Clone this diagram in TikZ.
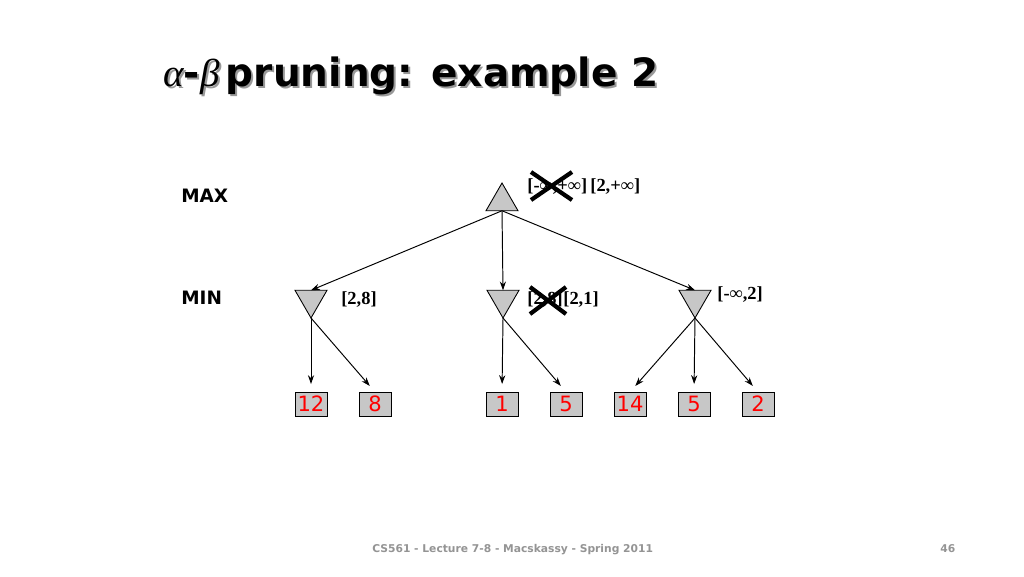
\documentclass[tikz,border=0pt]{standalone}
\usepackage{fontspec}
\setmainfont{Liberation Serif}
\newfontfamily\vsans{DejaVu Sans}
\usetikzlibrary{shapes.geometric,arrows.meta,calc}
\begin{document}
\begin{tikzpicture}[x=0.02cm,y=-0.02cm,
  maxnode/.style={regular polygon,regular polygon sides=3,minimum size=0.74cm,inner sep=0pt,outer sep=0pt,draw=black,fill=black!22,line width=0.5pt},
  minnode/.style={maxnode,shape border rotate=180},
  leaf/.style={draw=black,fill=black!22,minimum width=0.64cm,minimum height=0.48cm,inner sep=0pt,outer sep=0pt,line width=0.5pt,text=red,font=\vsans\fontsize{12pt}{14pt}\selectfont},
  edge/.style={line width=0.55pt,-{Stealth[length=5pt,width=3.5pt]}},
  leafedge/.style={edge,shorten >=0.16cm},
  bound/.style={font=\bfseries\fontsize{10.5pt}{12pt}\selectfont,inner sep=0pt,anchor=west},
  level/.style={font=\vsans\bfseries\fontsize{10.5pt}{12pt}\selectfont,inner sep=0pt,anchor=west},
  titletext/.style={anchor=base west,inner sep=0pt,font=\fontsize{22.2pt}{25pt}\selectfont},
  foottext/.style={anchor=base west,inner sep=0pt,text=black!42,font=\vsans\bfseries\fontsize{6.1pt}{8pt}\selectfont},
  cross/.style={line width=2.4pt,black}]
\path[use as bounding box,fill=white] (0,0) rectangle (1024,576);
% title
\node[titletext,text=black!40] (titleshadow) at (165,88)
  {{\itshape α}{\vsans\bfseries -}{\itshape β}\,{\vsans\bfseries pruning: example 2}};
\node[titletext] (title) at (163,86)
  {{\itshape α}{\vsans\bfseries -}{\itshape β}\,{\vsans\bfseries pruning: example 2}};
% level labels
\node[level] (maxlbl) at (181,196) {MAX};
\node[level] (minlbl) at (181,298) {MIN};
% nodes
\node[maxnode] (A) at (502,201.5) {};
\node[minnode] (B) at (311,299.5) {};
\node[minnode] (C) at (503,299.5) {};
\node[minnode] (D) at (695,299.5) {};
\node[leaf] (L1) at (311,404) {12};
\node[leaf] (L2) at (375,404) {8};
\node[leaf] (L3) at (502,404) {1};
\node[leaf] (L4) at (566,404) {5};
\node[leaf] (L5) at (630,404) {14};
\node[leaf] (L6) at (694,404) {5};
\node[leaf] (L7) at (758,404) {2};
% edges
\draw[edge] (A.side 2) -- (B.side 2);
\draw[edge] (A.side 2) -- (C.side 2);
\draw[edge] (A.side 2) -- (D.side 2);
\draw[leafedge] (B.corner 1) -- (L1.north);
\draw[leafedge] (B.corner 1) -- (L2.north);
\draw[leafedge] (C.corner 1) -- (L3.north);
\draw[leafedge] (C.corner 1) -- (L4.north);
\draw[leafedge] (D.corner 1) -- (L5.north);
\draw[leafedge] (D.corner 1) -- (L6.north);
\draw[leafedge] (D.corner 1) -- (L7.north);
% bounds
\node[bound] (a0) at (527,187) {[-∞,+∞]};
\node[bound] (a1) at (590,187) {[2,+∞]};
\node[bound] (b0) at (341,300) {[2,8]};
\node[bound] (c0) at (527,300) {[2,8]};
\node[bound] (c1) at (563,300) {[2,1]};
\node[bound] (d0) at (717,295) {[-∞,2]};
% crosses
\draw[cross] (531,172) -- (572,200) (531,200) -- (572,172);
\draw[cross] (530,287) -- (566,314) (530,314) -- (566,287);
% footer
\node[foottext] (foot) at (372,552) {CS561 - Lecture 7-8 - Macskassy - Spring 2011};
\node[foottext] (page) at (940,552) {46};
\end{tikzpicture}
\end{document}
